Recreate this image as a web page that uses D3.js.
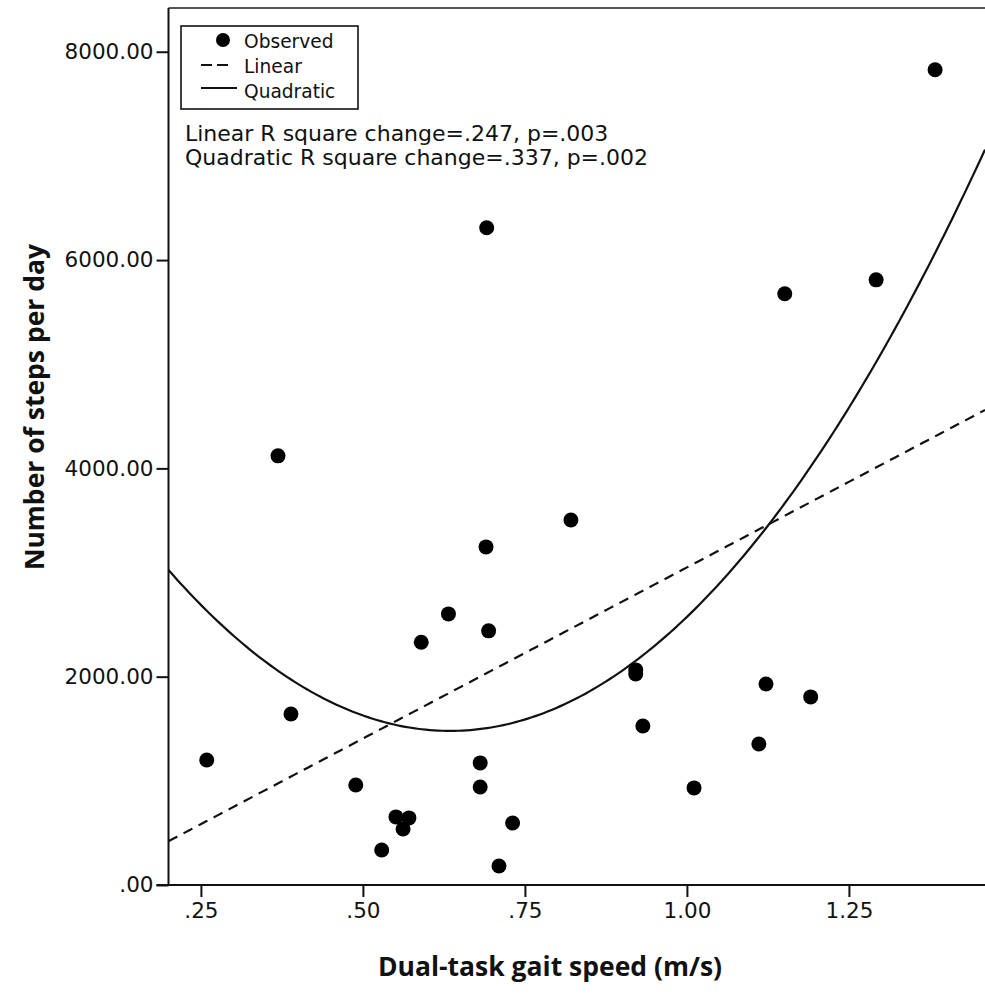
<!DOCTYPE html>
<html>
<head>
<meta charset="utf-8">
<script src="https://cdn.jsdelivr.net/npm/d3@7"></script>
<style>
  html, body { margin: 0; padding: 0; background: #fff; }
  svg { display: block; }
</style>
</head>
<body>
<svg id="chart" width="985" height="994"></svg>
<script>
// ---- Data ----
const gaitSpeed = [0.259, 0.369, 0.389, 0.489, 0.529, 0.551, 0.571, 0.562, 0.590, 0.632,
                   0.681, 0.681, 0.710, 0.731, 0.690, 0.694, 0.691, 0.821, 0.921, 0.921,
                   0.932, 1.011, 1.111, 1.122, 1.151, 1.191, 1.292, 1.383];
const stepsPerDay = [1200, 4120, 1642, 960, 336, 654, 644, 538, 2330, 2603,
                     1172, 941, 182, 595, 3246, 2440, 6310, 3505, 2065, 2026,
                     1527, 932, 1354, 1930, 5676, 1806, 5810, 7827];
// fitted curve coefficients (intercept, slope, quadratic)
const linearCoef = [-237, 3286];
const quadCoef = [4775, -10389, 8188];

const xTickValues = [0.25, 0.50, 0.75, 1.00, 1.25];
const xTickLabels = [".25", ".50", ".75", "1.00", "1.25"];
const yTickValues = [0, 2000, 4000, 6000, 8000];
const yTickLabels = [".00", "2000.00", "4000.00", "6000.00", "8000.00"];

const legendLabels = ["Observed", "Linear", "Quadratic"];
const annotations = ["Linear R square change=.247, p=.003", "Quadratic R square change=.337, p=.002"];
const xTitle = "Dual-task gait speed (m/s)";
const yTitle = "Number of steps per day";

// ---- Layout ----
const svg = d3.select("#chart");
const pLeft = 168.5, pRight = 985, pTop = 8, pBottom = 885;

const x = d3.scaleLinear().domain([0.2, 1.46]).range([pLeft, pRight]);
const y = d3.scaleLinear().domain([0, 8420]).range([pBottom, pTop]);

const font = "'DejaVu Sans', Verdana, sans-serif";

svg.append("defs").append("clipPath").attr("id", "clip")
  .append("rect").attr("x", pLeft).attr("y", pTop).attr("width", pRight - pLeft).attr("height", pBottom - pTop);

// top border
svg.append("line").attr("x1", pLeft).attr("x2", pRight).attr("y1", pTop).attr("y2", pTop)
  .attr("stroke", "#555").attr("stroke-width", 2);

// axes
const xAxis = d3.axisBottom(x).tickValues(xTickValues)
  .tickFormat((d, i) => xTickLabels[i]).tickSize(12).tickSizeOuter(0).tickPadding(6);
const yAxis = d3.axisLeft(y).tickValues(yTickValues)
  .tickFormat((d, i) => yTickLabels[i]).tickSize(12).tickSizeOuter(0).tickPadding(3);

const gx = svg.append("g").attr("transform", `translate(0,${pBottom})`).call(xAxis);
const gy = svg.append("g").attr("transform", `translate(${pLeft},0)`).call(yAxis);
[gx, gy].forEach(g => {
  g.select(".domain").attr("stroke", "#111").attr("stroke-width", 2);
  g.selectAll(".tick line").attr("stroke", "#111").attr("stroke-width", 2);
  g.selectAll(".tick text").attr("fill", "#111").style("font-family", font).style("font-size", "21.5px");
});
gy.select(".domain").attr("d", `M0,${pTop}V${pBottom}`);
gx.select(".domain").attr("d", `M${pLeft - 12},0H${pRight}`);

// fit curves
const plot = svg.append("g").attr("clip-path", "url(#clip)");
const xs = d3.range(0, 201).map(i => 0.2 + (1.46 - 0.2) * i / 200);
const line = d3.line().x(d => x(d[0])).y(d => y(d[1]));
plot.append("path")
  .datum(xs.map(v => [v, linearCoef[0] + linearCoef[1] * v]))
  .attr("d", line).attr("fill", "none").attr("stroke", "#111")
  .attr("stroke-width", 2.2).attr("stroke-dasharray", "10,7");
plot.append("path")
  .datum(xs.map(v => [v, quadCoef[0] + quadCoef[1] * v + quadCoef[2] * v * v]))
  .attr("d", line).attr("fill", "none").attr("stroke", "#111").attr("stroke-width", 2.2);

// points
plot.selectAll("circle.obs").data(gaitSpeed.map((v, i) => [v, stepsPerDay[i]]))
  .join("circle").attr("class", "obs")
  .attr("cx", d => x(d[0])).attr("cy", d => y(d[1])).attr("r", 7.5).attr("fill", "#000");

// legend
const lg = svg.append("g");
lg.append("rect").attr("x", 181).attr("y", 26).attr("width", 177).attr("height", 83)
  .attr("fill", "#fff").attr("stroke", "#111").attr("stroke-width", 1.6);
lg.append("circle").attr("cx", 223).attr("cy", 40).attr("r", 7).attr("fill", "#000");
lg.append("line").attr("x1", 201).attr("x2", 229).attr("y1", 65).attr("y2", 65)
  .attr("stroke", "#111").attr("stroke-width", 2).attr("stroke-dasharray", "11,5");
lg.append("line").attr("x1", 201).attr("x2", 237).attr("y1", 88).attr("y2", 88)
  .attr("stroke", "#111").attr("stroke-width", 2);
lg.selectAll("text").data(legendLabels).join("text")
  .attr("x", 244).attr("y", (d, i) => 48 + i * 25)
  .style("font-family", font).style("font-size", "18.6px").attr("fill", "#111").text(d => d);

// annotations
svg.selectAll("text.ann").data(annotations).join("text").attr("class", "ann")
  .attr("x", 185).attr("y", (d, i) => 141 + i * 24)
  .style("font-family", font).style("font-size", "22px").attr("fill", "#111").text(d => d);

// axis titles
const titleFont = "'Open Sans', 'Noto Sans', sans-serif";
svg.append("text").attr("x", 550).attr("y", 976).attr("text-anchor", "middle")
  .style("font-family", titleFont).style("font-size", "26.5px").style("font-weight", "bold")
  .attr("fill", "#111").text(xTitle);
svg.append("text").attr("transform", "translate(44,407) rotate(-90)").attr("text-anchor", "middle")
  .style("font-family", titleFont).style("font-size", "26.5px").style("font-weight", "bold")
  .attr("fill", "#111").text(yTitle);
</script>
</body>
</html>
